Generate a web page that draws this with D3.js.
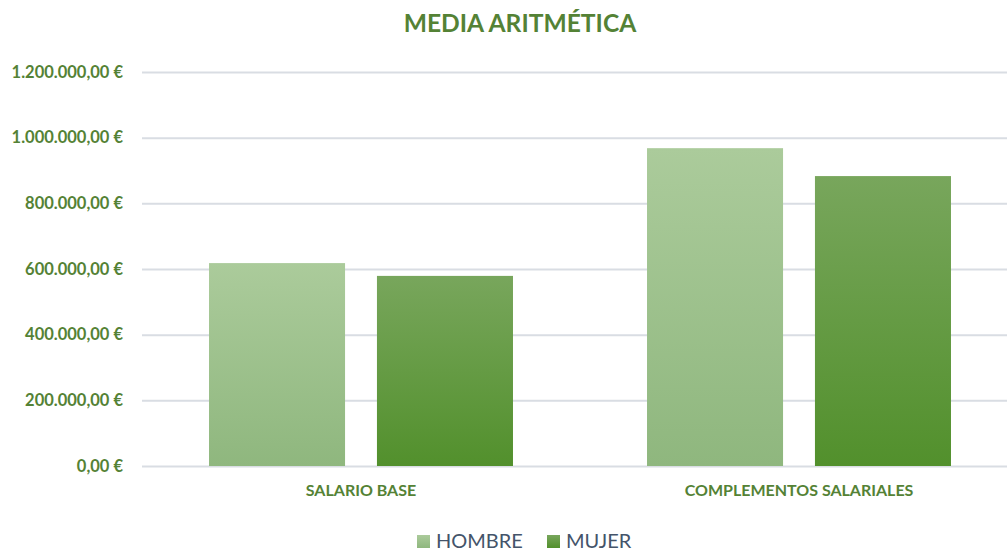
<!DOCTYPE html>
<html>
<head>
<meta charset="utf-8">
<script src="https://cdn.jsdelivr.net/npm/d3@7"></script>
<style>
  html, body { margin: 0; padding: 0; background: #fff; }
  svg { display: block; font-family: Lato, "Open Sans", sans-serif; }
</style>
</head>
<body>
<div class="container"></div>
<script>
// data
var categories = ["SALARIO BASE", "COMPLEMENTOS SALARIALES"];
var seriesNames = ["HOMBRE", "MUJER"];
var hombre = [618000, 968000];
var mujer = [579000, 883000];
var yTicks = [0, 200000, 400000, 600000, 800000, 1000000, 1200000];

var width = 1007, height = 551;
var green = "#548235";
var grads = {
    HOMBRE: ["#abcb9b", "#8fb77e"],
    MUJER: ["#78a65c", "#52902c"]
};

var rows = categories.map(function(c, i) {
    return {category: c, values: [{name: "HOMBRE", value: hombre[i]}, {name: "MUJER", value: mujer[i]}]};
});

var xScale = d3.scaleBand()
    .domain(categories)
    .range([142, 1018]);

// bars take ~70% of each category, with a small gap between the pair
var xInner = d3.scaleBand()
    .domain(seriesNames)
    .range([xScale.bandwidth() * 0.153, xScale.bandwidth() * 0.847])
    .paddingInner(0.19);

var yScale = d3.scaleLinear()
    .domain([0, 1200000])
    .range([466, 72]);

function euro(v) {
    var s = d3.format(",.2f")(v);
    s = s.replace(/,/g, "#").replace(".", ",").replace(/#/g, ".");
    return s + " €";
}

var svg = d3.select(".container").append("svg")
    .attr("width", width)
    .attr("height", height);

var defs = svg.append("defs");
Object.keys(grads).forEach(function(k) {
    var g = defs.append("linearGradient")
        .attr("id", "grad-" + k)
        .attr("x1", 0).attr("y1", 0).attr("x2", 0).attr("y2", 1);
    g.append("stop").attr("offset", "0%").attr("stop-color", grads[k][0]);
    g.append("stop").attr("offset", "100%").attr("stop-color", grads[k][1]);
});

// title
svg.append("text")
    .attr("x", 520)
    .attr("y", 32)
    .attr("text-anchor", "middle")
    .attr("font-size", 24.6)
    .attr("font-weight", "bold")
    .attr("fill", green)
    .text("MEDIA ARITMÉTICA");

// gridlines + y labels
var yAxis = d3.axisLeft(yScale)
    .tickValues(yTicks)
    .tickSize(-(1018 - 142))
    .tickPadding(19)
    .tickFormat(euro);

var gy = svg.append("g")
    .attr("transform", "translate(142,0)")
    .call(yAxis);
gy.select(".domain").remove();
gy.selectAll(".tick line")
    .attr("stroke", "#d9dde3")
    .attr("stroke-width", 2);
gy.selectAll(".tick text")
    .attr("fill", green)
    .attr("font-size", 16.5)
    .attr("font-weight", "bold")
    .attr("font-family", "Lato, sans-serif");

// bars
var groups = svg.selectAll(".cat")
    .data(rows)
    .enter()
    .append("g")
    .attr("class", "cat")
    .attr("transform", function(d) { return "translate(" + xScale(d.category) + ",0)"; });

groups.selectAll("rect")
    .data(function(d) { return d.values; })
    .enter()
    .append("rect")
    .attr("x", function(d) { return xInner(d.name); })
    .attr("y", function(d) { return yScale(d.value); })
    .attr("width", xInner.bandwidth())
    .attr("height", function(d) { return yScale(0) - yScale(d.value); })
    .attr("fill", function(d) { return "url(#grad-" + d.name + ")"; });

// x axis labels
var xAxis = d3.axisBottom(xScale).tickSize(0).tickPadding(18);
var gx = svg.append("g")
    .attr("transform", "translate(0,467)")
    .call(xAxis);
gx.select(".domain").remove();
gx.selectAll(".tick text")
    .attr("fill", green)
    .attr("font-size", 16)
    .attr("font-weight", "bold")
    .attr("font-family", "Lato, sans-serif");

// legend
var legendX = [417, 547];
var legend = svg.selectAll(".legend")
    .data(seriesNames)
    .enter()
    .append("g")
    .attr("class", "legend")
    .attr("transform", function(d, i) { return "translate(" + legendX[i] + ",535)"; });
legend.append("rect")
    .attr("width", 13)
    .attr("height", 13)
    .attr("fill", function(d) { return "url(#grad-" + d + ")"; });
legend.append("text")
    .attr("x", 19)
    .attr("y", 13)
    .attr("font-size", 20)
    .attr("fill", "#44546a")
    .text(function(d) { return d; });
</script>
</body>
</html>
